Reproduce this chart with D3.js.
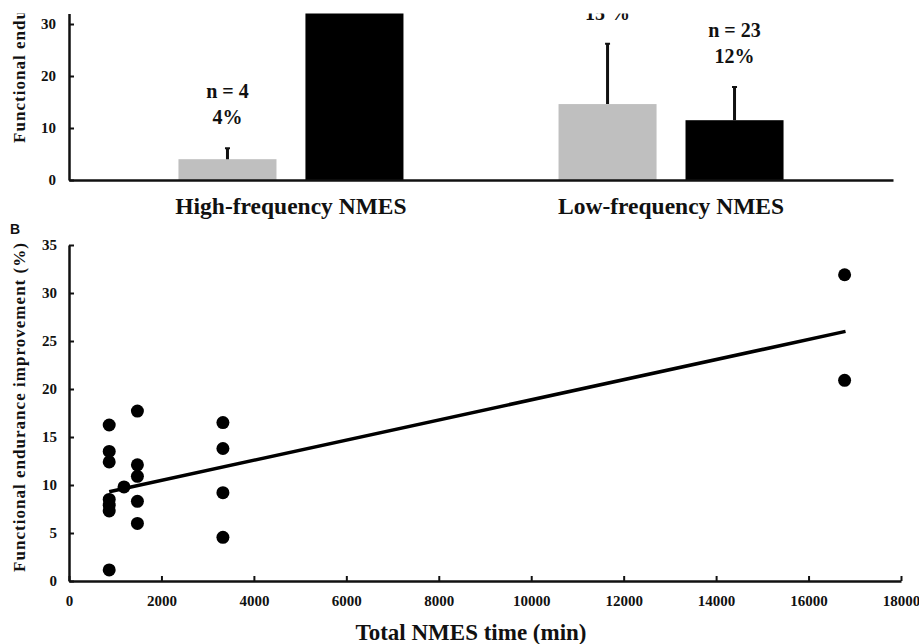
<!DOCTYPE html>
<html>
<head>
<meta charset="utf-8">
<script src="https://cdn.jsdelivr.net/npm/d3@7"></script>
<style>
body{margin:0;background:#fff}
svg text{font-family:"Liberation Serif","Times New Roman",serif;font-weight:bold;fill:#111}
.axis path,.axis line{stroke:#111}
</style>
</head>
<body>
<div id="chart"></div>
<script>
// panel A : bars
var groups = ['High-frequency NMES','Low-frequency NMES']
var series = ['light','dark']
var barMeans = [[4, 40],[14.6, 11.5]]
var barErrs = [[2.1, 8],[11.6, 6.4]]
var barLabels = [[['n = 4','4%'], []],[['15 %'], ['n = 23','12%']]]
var yTicksA = [0,10,20,30]

// panel B : scatter
var timeMin = [870,870,870,870,870,870,870,1190,1480,1480,1480,1480,1480,3330,3330,3330,3330,16780,16780]
var improve = [16.25,13.5,12.4,8.5,7.9,7.3,1.15,9.8,17.7,12.1,10.9,8.3,6.0,16.5,13.8,9.2,4.55,31.9,20.9]
var fitX = [870,16800]
var fitY = [9.3,26.0]
var xTicksB = d3.range(0,18001,2000)
var yTicksB = d3.range(0,36,5)

var svg = d3.select('#chart').append('svg')
.attr('width',919)
.attr('height',644)

var colors = {light:'#bfbfbf', dark:'#000'}
var serif = '"Liberation Serif","Times New Roman",serif'

// ---------- panel A ----------
var clip = svg.append('clipPath').attr('id','clipA')
clip.append('rect').attr('x',0).attr('y',13.4).attr('width',919).attr('height',300)
var gA = svg.append('g').attr('clip-path','url(#clipA)')

var yA = d3.scaleLinear().domain([0,32]).range([180,13.6])
var xA = d3.scaleBand().domain(groups).range([69,893]).paddingInner(0.408).paddingOuter(0.288)
var xInner = d3.scaleBand().domain(series).range([0,xA.bandwidth()]).paddingInner(0.228)

var cells = []
groups.forEach(function(g,i){
    series.forEach(function(s,j){
        cells.push({g:g,s:s,v:barMeans[i][j],e:barErrs[i][j],lab:barLabels[i][j]})
    })
})

gA.selectAll('.bar').data(cells).enter()
.append('rect')
.attr('x',function(d){return xA(d.g)+xInner(d.s)})
.attr('y',function(d){return yA(d.v)})
.attr('width',xInner.bandwidth())
.attr('height',function(d){return yA(0)-yA(d.v)})
.style('fill',function(d){return colors[d.s]})

var cx = function(d){return xA(d.g)+xInner(d.s)+xInner.bandwidth()/2}
gA.selectAll('.err').data(cells).enter()
.append('line')
.attr('x1',cx).attr('x2',cx)
.attr('y1',function(d){return yA(d.v)})
.attr('y2',function(d){return yA(d.v+d.e)})
.attr('stroke','#111').attr('stroke-width',3)
gA.selectAll('.cap').data(cells).enter()
.append('line')
.attr('x1',function(d){return cx(d)-2.5}).attr('x2',function(d){return cx(d)+2.5})
.attr('y1',function(d){return yA(d.v+d.e)})
.attr('y2',function(d){return yA(d.v+d.e)})
.attr('stroke','#111').attr('stroke-width',2)

cells.forEach(function(d){
    var n = d.lab.length
    d.lab.forEach(function(t,k){
        gA.append('text')
        .attr('x',cx(d))
        .attr('y',yA(d.v+d.e)-24-(n-1-k)*26)
        .attr('text-anchor','middle')
        .style('font-size','20px')
        .text(t)
    })
})

var yAxisA = gA.append('g').attr('class','axis')
.attr('transform','translate(69,0)')
.call(d3.axisLeft(yA).tickValues(yTicksA).tickSizeInner(-5).tickSizeOuter(0).tickPadding(13))
yAxisA.select('.domain').attr('stroke-width',2.5)
yAxisA.selectAll('.tick line').attr('stroke-width',2)
yAxisA.selectAll('text').style('font-size','15px').style('font-family',serif)

var xAxisA = svg.append('g').attr('class','axis')
.attr('transform','translate(0,180)')
.call(d3.axisBottom(xA).tickSize(0).tickPadding(17))
xAxisA.select('.domain').attr('stroke-width',2.5)
xAxisA.selectAll('text').style('font-size','23.5px').style('font-family',serif)

gA.append('text')
.attr('transform','translate(25,143) rotate(-90)')
.attr('text-anchor','start')
.attr('textLength',329).attr('lengthAdjust','spacing')
.style('font-size','17px')
.text('Functional endurance improvement (%)')

// ---------- panel B ----------
var xB = d3.scaleLinear().domain([0,18000]).range([69,901])
var yB = d3.scaleLinear().domain([0,35]).range([581,245])

svg.append('text')
.attr('x',10).attr('y',234)
.style('font-family','"Liberation Sans",Arial,sans-serif')
.style('font-size','14px')
.text('B')

var yAxisB = svg.append('g').attr('class','axis')
.attr('transform','translate(69,0)')
.call(d3.axisLeft(yB).tickValues(yTicksB).tickSizeInner(-5).tickSizeOuter(0).tickPadding(12))
yAxisB.select('.domain').attr('stroke-width',2.5)
yAxisB.selectAll('.tick line').attr('stroke-width',2)
yAxisB.selectAll('text').style('font-size','15px').style('font-family',serif)

var xAxisB = svg.append('g').attr('class','axis')
.attr('transform','translate(0,581)')
.call(d3.axisBottom(xB).tickValues(xTicksB).tickFormat(d3.format('d')).tickSizeInner(-5).tickSizeOuter(0).tickPadding(14))
xAxisB.select('.domain').attr('stroke-width',2.5)
xAxisB.selectAll('.tick line').attr('stroke-width',2)
xAxisB.selectAll('text').style('font-size','15px').style('font-family',serif)

svg.append('text')
.attr('x',471).attr('y',640)
.attr('text-anchor','middle')
.style('font-size','23px')
.text('Total NMES time (min)')

svg.append('text')
.attr('transform','translate(25,572) rotate(-90)')
.attr('text-anchor','start')
.attr('textLength',329).attr('lengthAdjust','spacing')
.style('font-size','17px')
.text('Functional endurance improvement (%)')

var line = d3.line().x(function(d){return xB(d[0])}).y(function(d){return yB(d[1])})
svg.append('path')
.datum(fitX.map(function(x,i){return [x,fitY[i]]}))
.attr('d',line)
.attr('fill','none')
.attr('stroke','#000')
.attr('stroke-width',3.5)

svg.selectAll('.dot').data(timeMin).enter()
.append('circle')
.attr('cx',function(d){return xB(d)})
.attr('cy',function(d,i){return yB(improve[i])})
.attr('r',6.5)
.style('fill','#000')
</script>
</body>
</html>
